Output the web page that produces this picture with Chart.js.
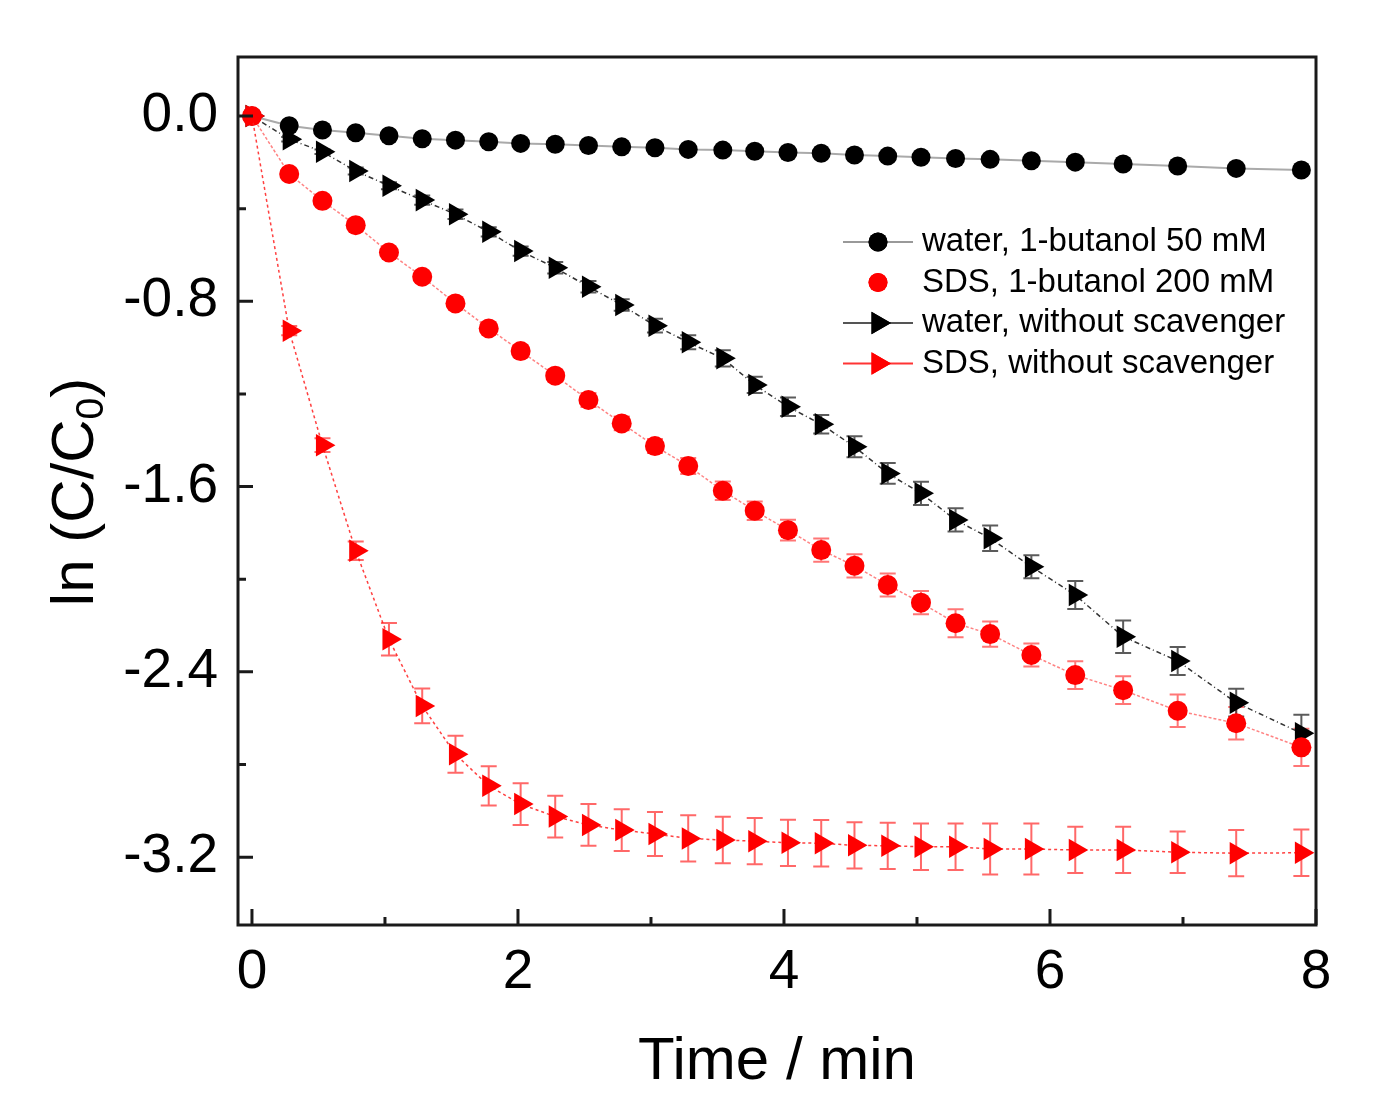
<!DOCTYPE html>
<html>
<head>
<meta charset="utf-8">
<script src="https://cdn.jsdelivr.net/npm/chart.js@4/dist/chart.umd.min.js"></script>
<style>
  html, body { margin: 0; padding: 0; background: #fff; }
</style>
</head>
<body>
<canvas id="myChart" width="1375" height="1119"></canvas>
<script>
// sampling times (min), shared by all four series
var times = [0, 0.28, 0.53, 0.78, 1.03, 1.28, 1.53, 1.78, 2.02, 2.28, 2.53, 2.78, 3.03, 3.28, 3.54,
             3.78, 4.03, 4.28, 4.53, 4.78, 5.03, 5.29, 5.55, 5.86, 6.19, 6.55, 6.96, 7.40, 7.89];

var seriesNames = ['water, 1-butanol 50 mM', 'SDS, 1-butanol 200 mM',
                   'water, without scavenger', 'SDS, without scavenger'];

var waterButanol = [0, -0.042, -0.060, -0.072, -0.085, -0.098, -0.104, -0.111, -0.118, -0.122, -0.127,
                    -0.133, -0.137, -0.144, -0.147, -0.152, -0.157, -0.161, -0.168, -0.173, -0.178,
                    -0.183, -0.187, -0.193, -0.199, -0.207, -0.216, -0.226, -0.233];
var sdsButanol = [0, -0.250, -0.366, -0.471, -0.589, -0.694, -0.809, -0.917, -1.015, -1.121, -1.226,
                  -1.327, -1.425, -1.511, -1.618, -1.704, -1.788, -1.874, -1.942, -2.025, -2.101,
                  -2.190, -2.237, -2.327, -2.414, -2.479, -2.568, -2.622, -2.726];
var waterNone = [0, -0.100, -0.154, -0.237, -0.301, -0.363, -0.424, -0.500, -0.583, -0.655, -0.737,
                 -0.816, -0.905, -0.977, -1.046, -1.161, -1.255, -1.331, -1.428, -1.543, -1.629,
                 -1.744, -1.823, -1.946, -2.068, -2.248, -2.353, -2.533, -2.665];
var sdsNone = [0, -0.927, -1.421, -1.877, -2.259, -2.547, -2.756, -2.892, -2.971, -3.025, -3.061,
               -3.083, -3.100, -3.119, -3.126, -3.131, -3.138, -3.140, -3.149, -3.151, -3.155,
               -3.155, -3.165, -3.165, -3.169, -3.169, -3.179, -3.183, -3.181];

// error bars (+/-)
var waterButanolErr = [0, 0.005, 0.005, 0.005, 0.005, 0.005, 0.005, 0.005, 0.005, 0.005, 0.005,
                       0.005, 0.005, 0.005, 0.005, 0.005, 0.005, 0.005, 0.005, 0.005, 0.005,
                       0.005, 0.005, 0.005, 0.005, 0.005, 0.005, 0.005, 0.005];
var sdsButanolErr = [0, 0.01, 0.01, 0.015, 0.015, 0.02, 0.02, 0.02, 0.025, 0.025, 0.03, 0.03, 0.03,
                     0.035, 0.04, 0.04, 0.045, 0.05, 0.05, 0.05, 0.05, 0.06, 0.055, 0.05, 0.06,
                     0.06, 0.07, 0.07, 0.08];
var waterNoneErr = [0, 0.01, 0.01, 0.015, 0.015, 0.02, 0.02, 0.02, 0.02, 0.025, 0.025, 0.025, 0.03,
                    0.03, 0.035, 0.035, 0.04, 0.04, 0.045, 0.045, 0.05, 0.05, 0.055, 0.05, 0.06,
                    0.07, 0.06, 0.06, 0.08];
var sdsNoneErr = [0, 0.02, 0.03, 0.04, 0.07, 0.075, 0.08, 0.085, 0.09, 0.09, 0.09, 0.09, 0.095, 0.1,
                  0.1, 0.1, 0.1, 0.1, 0.1, 0.1, 0.1, 0.1, 0.11, 0.11, 0.1, 0.1, 0.09, 0.1, 0.1];

var xTicks = [0, 2, 4, 6, 8];
var xMinor = [1, 3, 5, 7];
var yTicks = [0, -0.8, -1.6, -2.4, -3.2];
var yMinor = [-0.4, -1.2, -2.0, -2.8];

var FONT = '"Liberation Sans", Arial, sans-serif';

function pts(vals) {
    return times.map(function(t, i) { return {x: t, y: vals[i]}; });
}

// draw order: first dataset ends up on top
var datasets = [
    {
        label: seriesNames[3], data: pts(sdsNone), errs: sdsNoneErr, errColor: 'rgba(255,40,40,0.7)',
        borderColor: 'rgba(255,30,30,0.85)', borderWidth: 1.5, borderDash: [3, 3],
        pointStyle: 'triangle', pointRotation: 90, pointRadius: 13,
        pointBackgroundColor: '#ff0000', pointBorderWidth: 0, legendLine: 'rgba(255,30,30,0.9)'
    },
    {
        label: seriesNames[1], data: pts(sdsButanol), errs: sdsButanolErr, errColor: 'rgba(255,60,60,0.7)',
        borderColor: 'rgba(255,100,100,0.8)', borderWidth: 1.5, borderDash: [3, 2],
        pointStyle: 'circle', pointRadius: 10,
        pointBackgroundColor: '#ff0000', pointBorderWidth: 0, legendLine: null
    },
    {
        label: seriesNames[2], data: pts(waterNone), errs: waterNoneErr, errColor: 'rgba(50,50,50,0.8)',
        borderColor: '#333', borderWidth: 1.5, borderDash: [5, 3, 1, 3],
        pointStyle: 'triangle', pointRotation: 90, pointRadius: 13,
        pointBackgroundColor: '#000', pointBorderWidth: 0, legendLine: '#555'
    },
    {
        label: seriesNames[0], data: pts(waterButanol), errs: waterButanolErr, errColor: 'rgba(80,80,80,0.6)',
        borderColor: '#aaa', borderWidth: 2,
        pointStyle: 'circle', pointRadius: 9.5,
        pointBackgroundColor: '#000', pointBorderWidth: 0, legendLine: '#999'
    }
];

var errorBars = {
    id: 'errorBars',
    beforeDatasetsDraw: function(chart) {
        var ctx = chart.ctx, x = chart.scales.x, y = chart.scales.y;
        chart.data.datasets.forEach(function(ds) {
            ctx.save();
            ctx.strokeStyle = ds.errColor;
            ctx.lineWidth = 2;
            ds.data.forEach(function(p, j) {
                var e = ds.errs[j];
                if (!e) return;
                var px = x.getPixelForValue(p.x);
                var top = y.getPixelForValue(p.y + e), bot = y.getPixelForValue(p.y - e);
                ctx.beginPath();
                ctx.moveTo(px, top); ctx.lineTo(px, bot);
                ctx.moveTo(px - 8, top); ctx.lineTo(px + 8, top);
                ctx.moveTo(px - 8, bot); ctx.lineTo(px + 8, bot);
                ctx.stroke();
            });
            ctx.restore();
        });
    }
};

var frame = {
    id: 'frame',
    afterDraw: function(chart) {
        var ctx = chart.ctx, a = chart.chartArea, x = chart.scales.x, y = chart.scales.y;
        ctx.save();
        // box
        ctx.strokeStyle = '#1a1a1a';
        ctx.lineWidth = 3;
        ctx.strokeRect(a.left, a.top, a.right - a.left, a.bottom - a.top);
        // inward ticks
        ctx.beginPath();
        xTicks.forEach(function(v) { var p = x.getPixelForValue(v); ctx.moveTo(p, a.bottom); ctx.lineTo(p, a.bottom - 16); });
        xMinor.forEach(function(v) { var p = x.getPixelForValue(v); ctx.moveTo(p, a.bottom); ctx.lineTo(p, a.bottom - 8); });
        yTicks.forEach(function(v) { var p = y.getPixelForValue(v); ctx.moveTo(a.left, p); ctx.lineTo(a.left + 15, p); });
        yMinor.forEach(function(v) { var p = y.getPixelForValue(v); ctx.moveTo(a.left, p); ctx.lineTo(a.left + 8, p); });
        ctx.stroke();

        // y axis title with subscript
        ctx.translate(93, 492);
        ctx.rotate(-Math.PI / 2);
        ctx.fillStyle = '#000';
        ctx.textBaseline = 'alphabetic';
        var big = '60px ' + FONT, small = '39px ' + FONT;
        ctx.font = big;
        var w1 = ctx.measureText('ln (C/C').width, w3 = ctx.measureText(')').width;
        ctx.font = small;
        var w2 = ctx.measureText('0').width;
        var sx = -(w1 + w2 + w3) / 2;
        ctx.font = big; ctx.fillText('ln (C/C', sx, 0);
        ctx.font = small; ctx.fillText('0', sx + w1, 10);
        ctx.font = big; ctx.fillText(')', sx + w1 + w2, 0);
        ctx.restore();

        // legend (line + marker samples)
        var order = [3, 1, 2, 0];
        ctx.save();
        ctx.font = '33px ' + FONT;
        ctx.textBaseline = 'middle';
        ctx.fillStyle = '#000';
        order.forEach(function(di, row) {
            var ds = chart.data.datasets[di];
            var cy = 242 + row * 40.5;
            if (ds.legendLine) {
                ctx.strokeStyle = ds.legendLine;
                ctx.lineWidth = 2;
                ctx.beginPath();
                ctx.moveTo(843, cy); ctx.lineTo(913, cy);
                ctx.stroke();
            }
            ctx.fillStyle = ds.pointBackgroundColor;
            Chart.helpers.drawPoint(ctx, {
                pointStyle: ds.pointStyle, rotation: ds.pointRotation || 0,
                radius: ds.pointStyle === 'circle' ? 9.5 : 13, borderWidth: 0
            }, 878, cy);
            ctx.fill();
            ctx.fillStyle = '#000';
            ctx.fillText(ds.label, 922, cy);
        });
        ctx.restore();
    }
};

window.onload = function() {
    Chart.defaults.font.family = FONT;
    Chart.defaults.color = '#000';

    var ctx = document.getElementById('myChart').getContext('2d');
    new Chart(ctx, {
        type: 'line',
        data: { datasets: datasets },
        options: {
            responsive: false,
            animation: false,
            devicePixelRatio: 1,
            layout: { padding: { top: 57, right: 59, left: 0, bottom: 0 } },
            elements: { line: { tension: 0 } },
            plugins: { legend: { display: false }, tooltip: { enabled: false } },
            scales: {
                x: {
                    type: 'linear', min: -0.105, max: 8,
                    afterBuildTicks: function(s) { s.ticks = xTicks.map(function(v) { return {value: v}; }); },
                    afterFit: function(s) { s.height = 194; },
                    grid: { display: false, drawTicks: false },
                    border: { display: false },
                    ticks: { font: { size: 55 }, color: '#000', padding: 15, maxRotation: 0, autoSkip: false },
                    title: { display: true, text: 'Time / min', font: { size: 60 }, color: '#000',
                             padding: { top: 0, bottom: 21 } }
                },
                y: {
                    type: 'linear', min: -3.493, max: 0.255,
                    afterBuildTicks: function(s) { s.ticks = yTicks.map(function(v) { return {value: v}; }); },
                    afterFit: function(s) { s.width = 238; },
                    grid: { display: false, drawTicks: false },
                    border: { display: false },
                    ticks: { font: { size: 55 }, color: '#000', padding: 20, autoSkip: false,
                             callback: function(v) { return Number(v).toFixed(1); } }
                }
            }
        },
        plugins: [errorBars, frame]
    });
};
</script>
</body>
</html>
